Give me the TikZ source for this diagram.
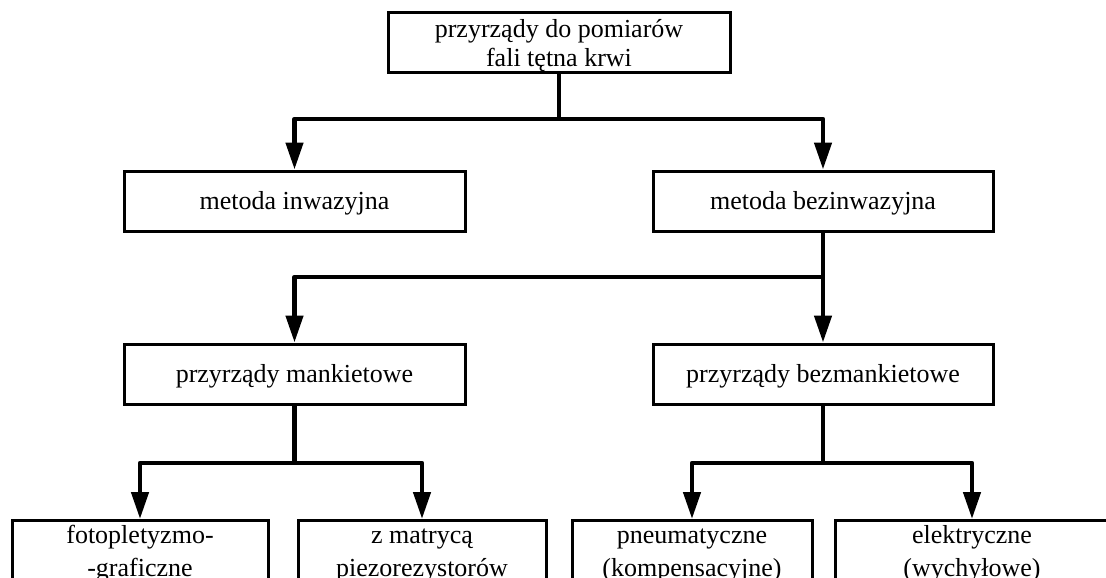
\documentclass[tikz,border=0pt]{standalone}
\usepackage{fontspec}
\setmainfont{Liberation Serif}
\usetikzlibrary{arrows.meta}
% line strut: fixed height and depth so every line sits alike
\newcommand\ls{\rule[-5pt]{0pt}{28pt}}
\tikzset{
  box/.style={draw, line width=3pt, rectangle, align=center, inner sep=0pt,
    minimum height=60pt, font=\fontsize{26}{29}\selectfont},
  leaf/.style={box, anchor=north, minimum height=80pt, font=\fontsize{26}{33}\selectfont},
  wire/.style={line width=4.5pt, line join=round},
  feed/.style={wire, -{Triangle[length=27pt,width=17pt]}}
}
\begin{document}
\begin{tikzpicture}[x=1pt,y=-1pt]
\useasboundingbox (0,0) rectangle (1106,578);
\clip (0,0) rectangle (1106,578);
% levels of the classification
\node[box, minimum width=342pt, minimum height=59pt] (top) at (559,42.5) {\rule{0pt}{25pt}\ls przyrządy do pomiarów\\ \ls fali tętna krwi};
\node[box, minimum width=341pt] (inv) at (294.5,201) {\ls metoda inwazyjna};
\node[box, minimum width=340pt] (bez) at (823,201) {\ls metoda bezinwazyjna};
\node[box, minimum width=341pt] (mank) at (294.5,374) {\ls przyrządy mankietowe};
\node[box, minimum width=340pt] (bezm) at (823,374) {\ls przyrządy bezmankietowe};
\node[leaf, minimum width=256pt] (foto) at (140,519) {\ls fotopletyzmo-\\ \ls -graficzne\\[20pt]};
\node[leaf, minimum width=248pt] (piezo) at (422,519) {\ls z matrycą\\ \ls piezorezystorów\\[20pt]};
\node[leaf, minimum width=240pt] (pneu) at (692,519) {\ls pneumatyczne\\ \ls (kompensacyjne)\\[20pt]};
\node[leaf, minimum width=274pt] (elek) at (972,519) {\ls elektryczne\\ \ls (wychyłowe)\\[20pt]};
% branch points
\coordinate (j1) at (559,119);
\coordinate (j2) at (823,277);
\coordinate (j3) at (294.5,463);
\coordinate (j4) at (823,463);
% connectors
\draw[wire] (top.south) -- (j1);
\draw[feed] (j1) -| (inv.north);
\draw[feed] (j1) -| (bez.north);
\draw[wire] (bez.south) -- (j2);
\draw[feed] (j2) -| (mank.north);
\draw[feed] (j2) -- (bezm.north);
\draw[wire] (mank.south) -- (j3);
\draw[feed] (j3) -| (foto.north);
\draw[feed] (j3) -| (piezo.north);
\draw[wire] (bezm.south) -- (j4);
\draw[feed] (j4) -| (pneu.north);
\draw[feed] (j4) -| (elek.north);
\end{tikzpicture}
\end{document}
